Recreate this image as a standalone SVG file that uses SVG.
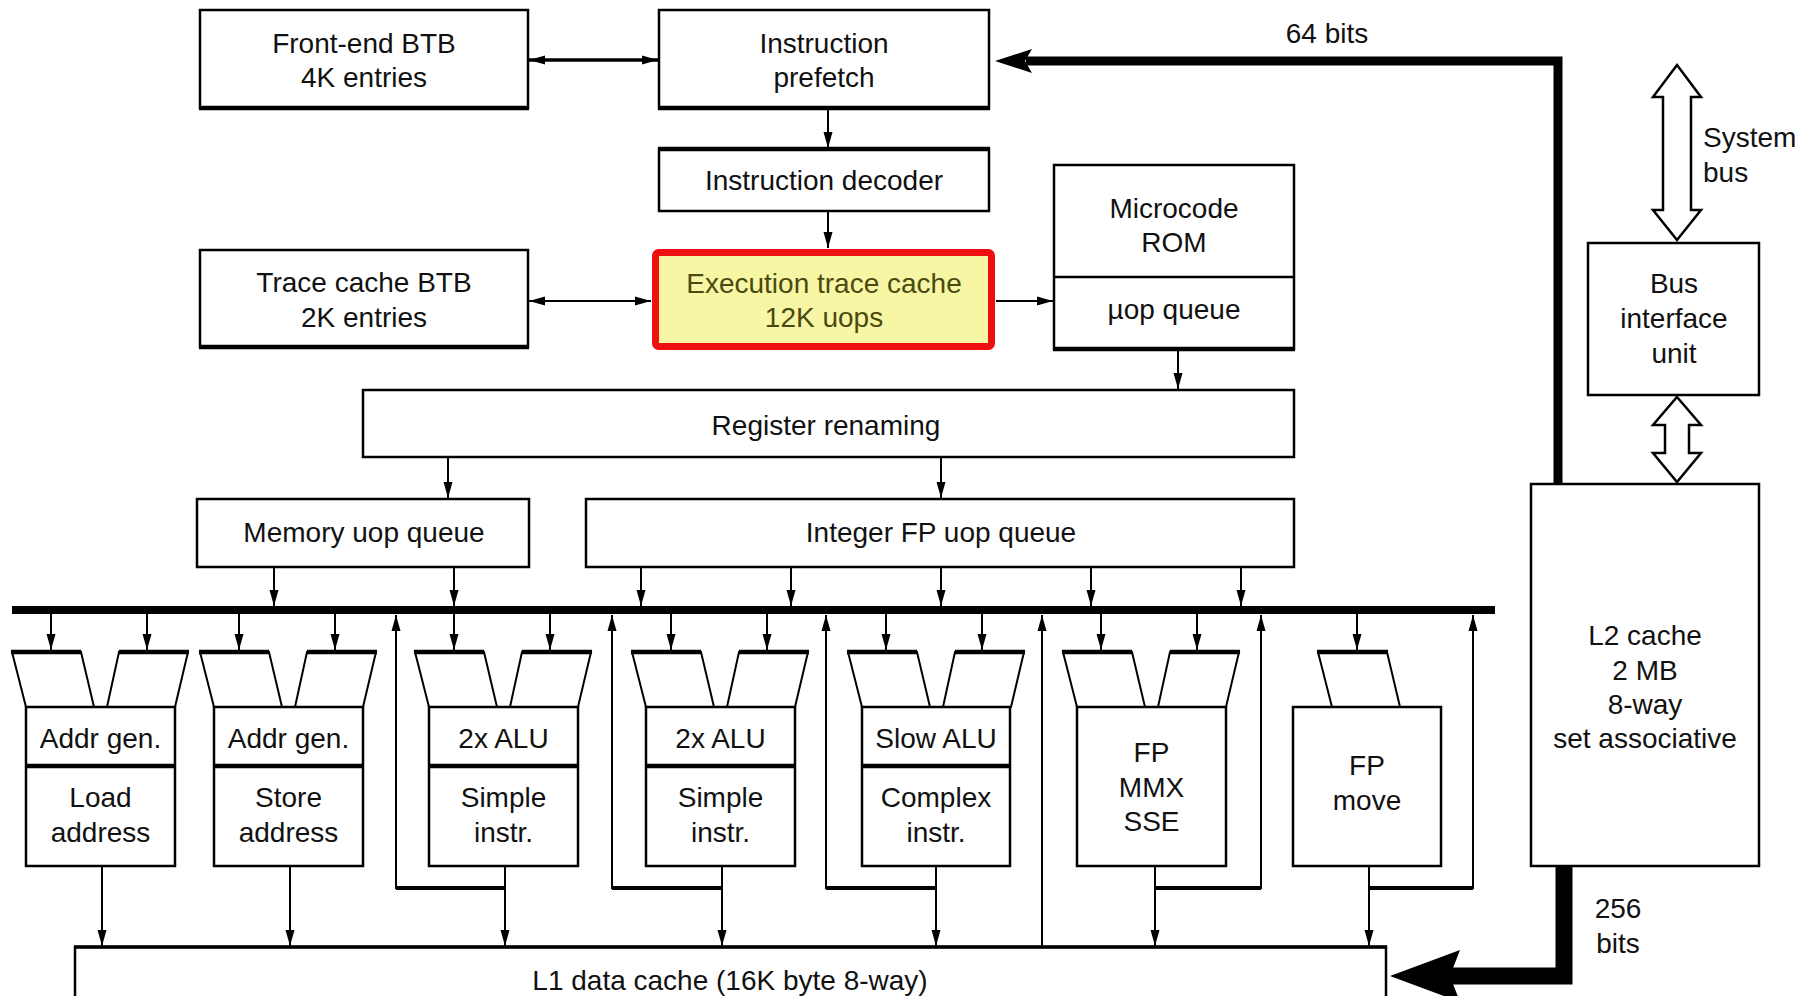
<svg xmlns="http://www.w3.org/2000/svg" xmlns:xlink="http://www.w3.org/1999/xlink" width="1810" height="996" viewBox="0 0 1810 996">
<style>
.box{fill:#fff;stroke:#000;stroke-width:2.5}
.t{font-family:"Liberation Sans",Arial,Helvetica,sans-serif;font-size:28px;text-anchor:middle;fill:#111}
.tl{text-anchor:start}
.ln{stroke:#000;stroke-width:2;fill:none}
.thk{stroke:#000;stroke-width:4.5;fill:none}
.trap{fill:#fff;stroke:#000;stroke-width:2}
.hollow{fill:#fff;stroke:#000;stroke-width:2.5;stroke-linejoin:miter}
</style>
<defs>
<marker id="ah" markerUnits="userSpaceOnUse" markerWidth="16" markerHeight="10" viewBox="0 0 16 10" refX="16" refY="5" orient="auto-start-reverse">
<path d="M0,0.5 L16,5 L0,9.5 z" fill="#000"/>
</marker>
<g id="trap2">
<polygon class="trap" points="-14,652 55,652 68,707 0,707"/>
<polygon class="trap" points="93,652 162,652 149,707 81,707"/>
<path class="thk" d="M-15,652H55 M93,652H163"/>
</g>
</defs>
<rect width="1810" height="996" fill="#fff"/>

<g id="front-end-btb">
<rect class="box" x="200" y="10" width="328" height="98"/>
<path class="thk" d="M199,108H529"/>
<text class="t" x="364" y="53">Front-end BTB</text>
<text class="t" x="364" y="87">4K entries</text>
</g>
<g id="instruction-prefetch">
<rect class="box" x="659" y="10" width="330" height="98"/>
<path class="thk" d="M658,108H990"/>
<text class="t" x="824" y="53">Instruction</text>
<text class="t" x="824" y="87">prefetch</text>
</g>
<g id="instruction-decoder">
<rect class="box" x="659" y="149" width="330" height="62"/>
<path class="thk" d="M658,149H990"/>
<text class="t" x="824" y="190">Instruction decoder</text>
</g>
<g id="trace-cache-btb">
<rect class="box" x="200" y="250" width="328" height="97"/>
<path class="thk" d="M199,347H529"/>
<text class="t" x="364" y="292">Trace cache BTB</text>
<text class="t" x="364" y="327">2K entries</text>
</g>
<g id="execution-trace-cache">
<rect x="655.5" y="252.5" width="336" height="94" rx="3" fill="#f6f6a4" stroke="#ee1010" stroke-width="7"/>
<text class="t" x="824" y="293" fill="#4a4a10" style="fill:#4a4a10">Execution trace cache</text>
<text class="t" x="824" y="327" style="fill:#4a4a10">12K uops</text>
</g>
<g id="microcode-rom">
<rect class="box" x="1054" y="165" width="240" height="184"/>
<path class="ln" d="M1054,277H1294" style="stroke-width:2.5"/>
<path class="thk" d="M1053,349H1295"/>
<text class="t" x="1174" y="218">Microcode</text>
<text class="t" x="1174" y="252">ROM</text>
<text class="t" x="1174" y="319">µop queue</text>
</g>
<g id="register-renaming">
<rect class="box" x="363" y="390" width="931" height="67"/>
<text class="t" x="826" y="435">Register renaming</text>
</g>
<g id="memory-uop-queue">
<rect class="box" x="197" y="499" width="332" height="68"/>
<text class="t" x="364" y="542">Memory uop queue</text>
</g>
<g id="integer-fp-uop-queue">
<rect class="box" x="586" y="499" width="708" height="68"/>
<text class="t" x="941" y="542">Integer FP uop queue</text>
</g>

<g id="unit-load">
<use xlink:href="#trap2" href="#trap2" x="26"/>
<rect class="box" x="26" y="707" width="149" height="159"/>
<path class="thk" d="M26,766H175"/>
<text class="t" x="100.5" y="748">Addr gen.</text>
<text class="t" x="100.5" y="807">Load</text>
<text class="t" x="100.5" y="842">address</text>
</g>
<g id="unit-store">
<use xlink:href="#trap2" href="#trap2" x="214"/>
<rect class="box" x="214" y="707" width="149" height="159"/>
<path class="thk" d="M214,766H363"/>
<text class="t" x="288.5" y="748">Addr gen.</text>
<text class="t" x="288.5" y="807">Store</text>
<text class="t" x="288.5" y="842">address</text>
</g>
<g id="unit-alu1">
<use xlink:href="#trap2" href="#trap2" x="429"/>
<rect class="box" x="429" y="707" width="149" height="159"/>
<path class="thk" d="M429,766H578"/>
<text class="t" x="503.5" y="748">2x ALU</text>
<text class="t" x="503.5" y="807">Simple</text>
<text class="t" x="503.5" y="842">instr.</text>
</g>
<g id="unit-alu2">
<use xlink:href="#trap2" href="#trap2" x="646"/>
<rect class="box" x="646" y="707" width="149" height="159"/>
<path class="thk" d="M646,766H795"/>
<text class="t" x="720.5" y="748">2x ALU</text>
<text class="t" x="720.5" y="807">Simple</text>
<text class="t" x="720.5" y="842">instr.</text>
</g>
<g id="unit-slow-alu">
<use xlink:href="#trap2" href="#trap2" x="862"/>
<rect class="box" x="862" y="707" width="148" height="159"/>
<path class="thk" d="M862,766H1010"/>
<text class="t" x="936" y="748">Slow ALU</text>
<text class="t" x="936" y="807">Complex</text>
<text class="t" x="936" y="842">instr.</text>
</g>
<g id="unit-fp-mmx-sse">
<use xlink:href="#trap2" href="#trap2" x="1077"/>
<rect class="box" x="1077" y="707" width="149" height="159"/>
<text class="t" x="1151.5" y="762">FP</text>
<text class="t" x="1151.5" y="797">MMX</text>
<text class="t" x="1151.5" y="831">SSE</text>
</g>
<g id="unit-fp-move">
<polygon class="trap" points="1318,652 1387,652 1400,707 1332,707"/>
<path class="thk" d="M1317,652H1388"/>
<rect class="box" x="1293" y="707" width="148" height="159"/>
<text class="t" x="1367" y="775">FP</text>
<text class="t" x="1367" y="810">move</text>
</g>

<g id="l1-data-cache">
<rect class="box" x="75" y="947" width="1311" height="70"/>
<path class="ln" d="M74,947H1387" style="stroke-width:3.5"/>
<text class="t" x="730" y="990">L1 data cache (16K byte 8-way)</text>
</g>
<g id="bus-interface-unit">
<rect class="box" x="1588" y="243" width="171" height="152"/>
<text class="t" x="1674" y="293">Bus</text>
<text class="t" x="1674" y="328">interface</text>
<text class="t" x="1674" y="363">unit</text>
</g>
<g id="l2-cache">
<rect class="box" x="1531" y="484" width="228" height="382"/>
<text class="t" x="1645" y="645">L2 cache</text>
<text class="t" x="1645" y="680">2 MB</text>
<text class="t" x="1645" y="714">8-way</text>
<text class="t" x="1645" y="748">set associative</text>
</g>

<g id="connectors">
<line x1="12" y1="610" x2="1495" y2="610" stroke="#000" stroke-width="8"/>
<line class="ln" x1="529" y1="60" x2="658" y2="60" style="stroke-width:3.5" marker-start="url(#ah)" marker-end="url(#ah)"/>
<line class="ln" x1="529" y1="301" x2="651" y2="301" marker-start="url(#ah)" marker-end="url(#ah)"/>
<line class="ln" x1="828" y1="109" x2="828" y2="148" marker-end="url(#ah)"/>
<line class="ln" x1="828" y1="212" x2="828" y2="248" marker-end="url(#ah)"/>
<line class="ln" x1="996" y1="301" x2="1053" y2="301" marker-end="url(#ah)"/>
<line class="ln" x1="1178" y1="351" x2="1178" y2="389" marker-end="url(#ah)"/>
<line class="ln" x1="448" y1="458" x2="448" y2="498" marker-end="url(#ah)"/>
<line class="ln" x1="941" y1="458" x2="941" y2="498" marker-end="url(#ah)"/>
<line class="ln" x1="274" y1="568" x2="274" y2="606" marker-end="url(#ah)"/>
<line class="ln" x1="454" y1="568" x2="454" y2="606" marker-end="url(#ah)"/>
<line class="ln" x1="641" y1="568" x2="641" y2="606" marker-end="url(#ah)"/>
<line class="ln" x1="791" y1="568" x2="791" y2="606" marker-end="url(#ah)"/>
<line class="ln" x1="941" y1="568" x2="941" y2="606" marker-end="url(#ah)"/>
<line class="ln" x1="1091" y1="568" x2="1091" y2="606" marker-end="url(#ah)"/>
<line class="ln" x1="1241" y1="568" x2="1241" y2="606" marker-end="url(#ah)"/>
<line class="ln" x1="51" y1="614" x2="51" y2="650" marker-end="url(#ah)"/>
<line class="ln" x1="147" y1="614" x2="147" y2="650" marker-end="url(#ah)"/>
<line class="ln" x1="239" y1="614" x2="239" y2="650" marker-end="url(#ah)"/>
<line class="ln" x1="335" y1="614" x2="335" y2="650" marker-end="url(#ah)"/>
<line class="ln" x1="454" y1="614" x2="454" y2="650" marker-end="url(#ah)"/>
<line class="ln" x1="550" y1="614" x2="550" y2="650" marker-end="url(#ah)"/>
<line class="ln" x1="671" y1="614" x2="671" y2="650" marker-end="url(#ah)"/>
<line class="ln" x1="767" y1="614" x2="767" y2="650" marker-end="url(#ah)"/>
<line class="ln" x1="886" y1="614" x2="886" y2="650" marker-end="url(#ah)"/>
<line class="ln" x1="982" y1="614" x2="982" y2="650" marker-end="url(#ah)"/>
<line class="ln" x1="1101" y1="614" x2="1101" y2="650" marker-end="url(#ah)"/>
<line class="ln" x1="1197" y1="614" x2="1197" y2="650" marker-end="url(#ah)"/>
<line class="ln" x1="1357" y1="614" x2="1357" y2="650" marker-end="url(#ah)"/>
<line class="ln" x1="102" y1="867" x2="102" y2="946" marker-end="url(#ah)"/>
<line class="ln" x1="290" y1="867" x2="290" y2="946" marker-end="url(#ah)"/>
<line class="ln" x1="505" y1="867" x2="505" y2="946" marker-end="url(#ah)"/>
<line class="ln" x1="722" y1="867" x2="722" y2="946" marker-end="url(#ah)"/>
<line class="ln" x1="936" y1="867" x2="936" y2="946" marker-end="url(#ah)"/>
<line class="ln" x1="1155" y1="867" x2="1155" y2="946" marker-end="url(#ah)"/>
<line class="ln" x1="1369" y1="867" x2="1369" y2="946" marker-end="url(#ah)"/>
<path class="ln" d="M505,888H396V615" marker-end="url(#ah)"/>
<path class="ln" d="M722,888H612V615" marker-end="url(#ah)"/>
<path class="ln" d="M936,888H826V615" marker-end="url(#ah)"/>
<path class="ln" d="M1155,888H1261V615" marker-end="url(#ah)"/>
<path class="ln" d="M1369,888H1473V615" marker-end="url(#ah)"/>
<path class="ln" d="M505,888H396 M722,888H612 M936,888H826 M1155,888H1261 M1369,888H1473" style="stroke-width:4"/>
<line class="ln" x1="1042" y1="947" x2="1042" y2="615" marker-end="url(#ah)"/>
<path d="M1558,484V61H1026" fill="none" stroke="#000" stroke-width="9"/>
<polygon points="995,61 1032,49 1025,61 1032,73" fill="#000"/>
<path d="M1564,866V976H1450" fill="none" stroke="#000" stroke-width="17"/>
<polygon points="1390,976 1460,950 1450,976 1460,1002" fill="#000"/>
<path class="hollow" d="M1677,65 L1701,97 L1691,97 L1691,210 L1701,210 L1677,240 L1653,210 L1663,210 L1663,97 L1653,97 Z"/>
<path class="hollow" d="M1677,397 L1701,425 L1689,425 L1689,453 L1701,453 L1677,482 L1653,453 L1665,453 L1665,425 L1653,425 Z"/>
<text class="t" x="1327" y="43">64 bits</text>
<text class="t tl" x="1703" y="147">System</text>
<text class="t tl" x="1703" y="182">bus</text>
<text class="t" x="1618" y="918">256</text>
<text class="t" x="1618" y="953">bits</text>
</g>
</svg>
